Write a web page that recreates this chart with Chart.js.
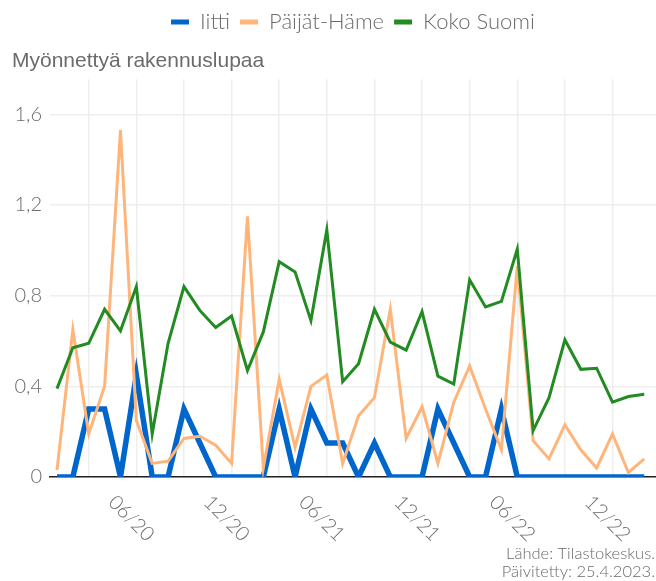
<!DOCTYPE html>
<html>
<head>
<meta charset="utf-8">
<title>Myönnettyä rakennuslupaa</title>
<script src="https://cdn.jsdelivr.net/npm/chart.js@4.4.0/dist/chart.umd.min.js"></script>
<style>
  html, body { margin: 0; padding: 0; background: #fff; }
  #wrap { width: 656px; height: 581px; }
</style>
</head>
<body>
<div id="wrap"><canvas id="chart"></canvas></div>
<script>
// kuukaudet 01/20 - 02/23
const months = [
  '01/20', '02/20', '03/20', '04/20', '05/20', '06/20', '07/20', '08/20', '09/20', '10/20', '11/20', '12/20',
  '01/21', '02/21', '03/21', '04/21', '05/21', '06/21', '07/21', '08/21', '09/21', '10/21', '11/21', '12/21',
  '01/22', '02/22', '03/22', '04/22', '05/22', '06/22', '07/22', '08/22', '09/22', '10/22', '11/22', '12/22',
  '01/23', '02/23'
];

const iitti = [
  0, 0, 0.3, 0.3, 0, 0.45, 0, 0, 0.3, 0.15, 0, 0,
  0, 0, 0.3, 0, 0.3, 0.15, 0.15, 0, 0.15, 0, 0, 0,
  0.3, 0.15, 0, 0, 0.3, 0, 0, 0, 0, 0, 0, 0,
  0, 0
];

const paijatHame = [
  0.03, 0.65, 0.19, 0.40, 1.53, 0.25, 0.06, 0.07, 0.17, 0.18, 0.14, 0.06,
  1.15, 0.04, 0.43, 0.13, 0.40, 0.45, 0.06, 0.27, 0.35, 0.74, 0.17, 0.31,
  0.06, 0.33, 0.49, 0.30, 0.12, 0.93, 0.16, 0.08, 0.23, 0.12, 0.04, 0.19,
  0.02, 0.08
];

const kokoSuomi = [
  0.39, 0.57, 0.59, 0.74, 0.645, 0.84, 0.19, 0.59, 0.84, 0.735, 0.66, 0.71,
  0.47, 0.64, 0.95, 0.905, 0.69, 1.09, 0.42, 0.50, 0.74, 0.595, 0.56, 0.73,
  0.445, 0.41, 0.87, 0.75, 0.775, 1.005, 0.205, 0.35, 0.605, 0.475, 0.48, 0.33,
  0.355, 0.365
];

const seriesNames = ['Iitti', 'Päijät-Häme', 'Koko Suomi'];
const yTicks = [0, 0.4, 0.8, 1.2, 1.6];
const xLabelMonths = ['06', '12'];
const xGridMonths = ['03', '06', '09', '12'];
const caption = ['Lähde: Tilastokeskus.', 'Päivitetty: 25.4.2023.'];

const textColor = '#6b6b6b';
const gridColor = '#eeeeee';

function points(values) {
    return values.map((v, i) => ({ x: i, y: v }));
}

// rotated x labels (clockwise) + source text
const extraText = {
    id: 'extraText',
    afterDraw(chart) {
        const ctx = chart.ctx;
        const xScale = chart.scales.x;
        const bottom = chart.chartArea.bottom;

        ctx.save();
        ctx.fillStyle = textColor;
        ctx.font = '300 20px Lato';
        ctx.textAlign = 'center';
        ctx.textBaseline = 'middle';
        months.forEach((m, i) => {
            if (xLabelMonths.indexOf(m.substring(0, 2)) < 0) return;
            const px = xScale.getPixelForValue(i);
            ctx.save();
            ctx.translate(px - 5, bottom + 41.5);
            ctx.rotate(Math.PI / 4);
            ctx.fillText(m, 0, 0);
            ctx.restore();
        });

        ctx.font = '300 16.5px Lato';
        ctx.textAlign = 'right';
        ctx.fillText(caption[0], chart.width - 1, 554);
        ctx.fillText(caption[1], chart.width - 1, 572);
        ctx.restore();
    }
};

const ctx = document.getElementById('chart');

new Chart(ctx, {
    type: 'line',
    data: {
        datasets: [
            {
                label: seriesNames[0],
                data: points(iitti),
                borderColor: '#0066cc',
                backgroundColor: '#0066cc',
                borderWidth: 5.5,
                order: 3
            },
            {
                label: seriesNames[1],
                data: points(paijatHame),
                borderColor: '#ffb57a',
                backgroundColor: '#ffb57a',
                borderWidth: 3,
                order: 2
            },
            {
                label: seriesNames[2],
                data: points(kokoSuomi),
                borderColor: '#228b22',
                backgroundColor: '#228b22',
                borderWidth: 3,
                order: 1
            }
        ]
    },
    options: {
        responsive: true,
        maintainAspectRatio: false,
        animation: false,
        layout: {
            padding: { left: 12, right: 0, top: 1, bottom: 0 }
        },
        elements: {
            point: { radius: 0, hoverRadius: 0 },
            line: { tension: 0 }
        },
        plugins: {
            tooltip: { enabled: false },
            legend: {
                position: 'top',
                fullSize: false,
                labels: {
                    boxWidth: 18,
                    boxHeight: 5,
                    padding: 10,
                    color: textColor,
                    font: { family: 'Lato', size: 22, weight: 300 },
                    sort: (a, b) => a.datasetIndex - b.datasetIndex,
                    generateLabels: (chart) => {
                        const items = Chart.defaults.plugins.legend.labels.generateLabels(chart);
                        items.forEach(it => { it.lineWidth = 0; });
                        return items;
                    }
                }
            },
            title: {
                display: true,
                text: 'Myönnettyä rakennuslupaa',
                align: 'start',
                weight: 500,
                color: textColor,
                font: { family: 'Liberation Sans', size: 21, weight: 'normal' },
                padding: { top: 6, bottom: 5 }
            }
        },
        scales: {
            x: {
                type: 'linear',
                min: -0.44,
                max: 37.74,
                afterBuildTicks: (scale) => {
                    scale.ticks = months
                        .map((m, i) => ({ value: i, month: m.substring(0, 2) }))
                        .filter(t => xGridMonths.indexOf(t.month) >= 0)
                        .map(t => ({ value: t.value }));
                },
                afterFit: (scale) => { scale.height = 104; },
                ticks: { display: false },
                grid: { color: gridColor, lineWidth: 1.5, drawTicks: false },
                border: { display: true, color: '#222', width: 1.5 }
            },
            y: {
                min: 0,
                max: 1.755,
                afterBuildTicks: (scale) => {
                    scale.ticks = yTicks.map(v => ({ value: v }));
                },
                afterFit: (scale) => { scale.width = 38; },
                ticks: {
                    color: textColor,
                    padding: 8,
                    font: { family: 'Lato', size: 20, weight: 300 },
                    callback: (v) => String(v).replace('.', ',')
                },
                grid: { color: gridColor, lineWidth: 1.5, drawTicks: false },
                border: { display: false }
            }
        }
    },
    plugins: [extraText]
});
</script>
</body>
</html>
